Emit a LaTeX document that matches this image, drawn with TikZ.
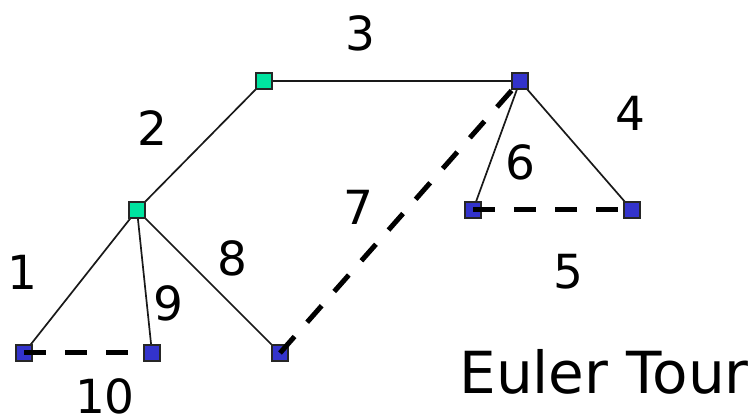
\documentclass[tikz,border=0pt]{standalone}
\usepackage{fontspec}
\setmainfont{DejaVu Sans}
\definecolor{vgreen}{RGB}{0,228,160}
\definecolor{vblue}{RGB}{51,51,204}
\begin{document}
\begin{tikzpicture}[x=1pt,y=-1pt,
  vtx/.style={draw=black!85,line width=1.3pt,minimum size=16pt,inner sep=0,rectangle},
  gv/.style={vtx,fill=vgreen},
  bv/.style={vtx,fill=vblue},
  edge/.style={line width=1.7pt,black!90},
  dedge/.style={line width=5pt,black,dash pattern=on 22pt off 19pt},
  lab/.style={inner sep=0,font=\fontsize{47}{47}\selectfont},
  title/.style={inner sep=0,font=\fontsize{58}{58}\selectfont}]
\useasboundingbox (0,0) rectangle (753,419);
\coordinate (pa) at (264,81);
\coordinate (pb) at (520,81);
\coordinate (pc) at (137,210);
\coordinate (pd) at (473,210);
\coordinate (pe) at (632,210);
\coordinate (pf) at (24,353);
\coordinate (pg) at (152,353);
\coordinate (ph) at (280,353);
% solid edges under nodes
\draw[edge] (pc) -- (pa);
\draw[edge] (pa) -- (pb);
\draw[edge] (pb) -- (pe);
\draw[edge] (pb) -- (pd);
\draw[edge] (pc) -- (ph);
\draw[edge] (pc) -- (pg);
\draw[edge] (pc) -- (pf);
% nodes
\node[gv] (a) at (pa) {};
\node[bv] (b) at (pb) {};
\node[gv] (c) at (pc) {};
\node[bv] (d) at (pd) {};
\node[bv] (e) at (pe) {};
\node[bv] (f) at (pf) {};
\node[bv] (g) at (pg) {};
\node[bv] (h) at (ph) {};
% dashed edges on top
\draw[dedge] (d.center) -- (e.west);
\draw[dedge] (h.center) -- (b.center);
\draw[dedge] (f.center) -- (g.west);
% labels
\node[lab] (l1) at (22,272) {1};
\node[lab] (l2) at (152,128) {2};
\node[lab] (l3) at (360,33) {3};
\node[lab] (l4) at (630,113) {4};
\node[lab] (l5) at (568,272) {5};
\node[lab] (l6) at (520,162) {6};
\node[lab] (l7) at (358,207) {7};
\node[lab] (l8) at (232,258) {8};
\node[lab] (l9) at (168,303) {9};
\node[lab] (l10) at (105,396) {10};
\node[title] (t) at (604,372) {Euler Tour};
\end{tikzpicture}
\end{document}
